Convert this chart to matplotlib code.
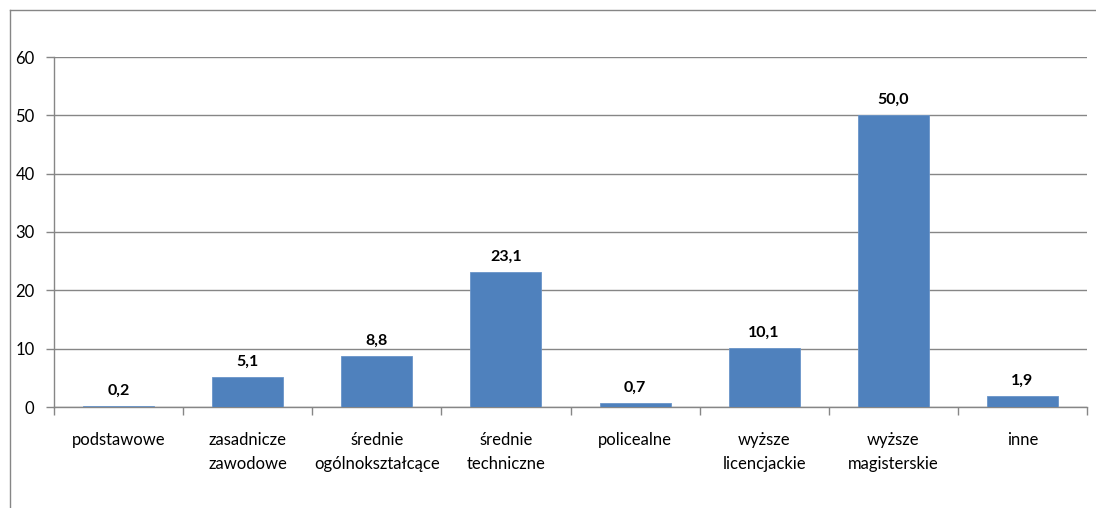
import numpy as np
import matplotlib.pyplot as plt
from matplotlib.lines import Line2D

categories = ['podstawowe', 'zasadnicze\nzawodowe', 'średnie\nogólnokształcące',
              'średnie\ntechniczne', 'policealne', 'wyższe\nlicencjackie',
              'wyższe\nmagisterskie', 'inne']
values = [0.2, 5.1, 8.8, 23.1, 0.7, 10.1, 50.0, 1.9]

plt.rcParams['font.family'] = ['Lato', 'DejaVu Sans']

W, H = 1096, 508
fig = plt.figure(figsize=(W / 100, H / 100), dpi=100)
ax = fig.add_axes([54 / W, 1 - 407 / H, (1087 - 54) / W, 350 / H])

grid_col = '#868686'
x = np.arange(len(values))
ax.bar(x, values, width=0.55, color='#4F81BD', edgecolor='#6A95C9', linewidth=0.6, zorder=3)

for xi, v in zip(x, values):
    ax.annotate(f'{v:.1f}'.replace('.', ','), (xi, v), xytext=(0, 6),
                textcoords='offset points', ha='center', va='bottom',
                fontsize=11.5, fontweight='bold')

ax.set_xlim(-0.5, len(values) - 0.5)
ax.set_ylim(0, 60)
ax.set_yticks(range(0, 61, 10))
ax.yaxis.grid(True, color=grid_col, linewidth=1)
ax.set_axisbelow(True)

# category labels centered, ticks on category boundaries
ax.set_xticks(x)
ax.set_xticklabels(categories, fontsize=12, linespacing=1.6)
ax.tick_params(axis='x', length=0, pad=18)
ax.set_xticks(np.arange(-0.5, len(values)), minor=True)
ax.tick_params(axis='x', which='minor', length=6, color=grid_col, width=1)
ax.tick_params(axis='y', length=6, color=grid_col, width=1, labelsize=12, pad=8)

for s in ['top', 'right']:
    ax.spines[s].set_visible(False)
for s in ['left', 'bottom']:
    ax.spines[s].set_color(grid_col)
    ax.spines[s].set_linewidth(1)

# chart frame
fig.add_artist(Line2D([9.5 / W, 1], [1 - 9.5 / H, 1 - 9.5 / H], color=grid_col, linewidth=1))
fig.add_artist(Line2D([9.5 / W, 9.5 / W], [0, 1 - 9.5 / H], color=grid_col, linewidth=1))

fig.savefig('out.png', dpi=100)
